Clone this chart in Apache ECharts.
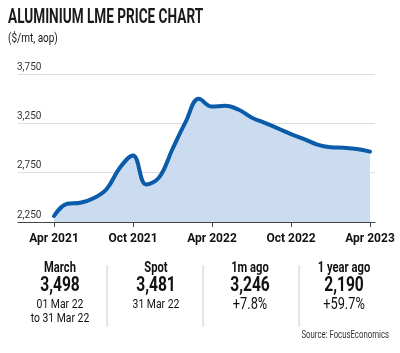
<!DOCTYPE html>
<html><head><meta charset="utf-8">
<script src="https://cdn.jsdelivr.net/npm/echarts@6/dist/echarts.min.js"></script>
<style>html,body{margin:0;padding:0;background:#fff}#c{width:400px;height:353px}</style>
</head><body><div id="c"></div>
<script>
const months = ['2021-04','2021-05','2021-06','2021-07','2021-08','2021-09','2021-10','2021-11','2021-12',
  '2022-01','2022-02','2022-03','2022-04','2022-05','2022-06','2022-07','2022-08','2022-09','2022-10','2022-11','2022-12',
  '2023-01','2023-02','2023-03','2023-04'];
const prices = [2311,2435,2445,2490,2585,2800,2925,2630,2705,2990,3265,3498,3420,3428,3390,3310,3255,3199,3140,3090,3035,3008,3002,2990,2963];
const xTickMonths = ['2021-04','2021-10','2022-04','2022-10','2023-04'];
const xTickLabels = ['Apr 2021','Oct 2021','Apr 2022','Oct 2022','Apr 2023'];
const yTickValues = [2250,2750,3250,3750];
const yTickLabels = ['2,250','2,750','3,250','3,750'];
const statHeads = ['March','Spot','1m ago','1 year ago'];
const statValues = ['3,498','3,481','3,246','2,190'];
const statNotes = [['01 Mar 22','to 31 Mar 22'],['31 Mar 22'],['+7.8%'],['+59.7%']];
const titleText = 'ALUMINIUM LME PRICE CHART';
const subtitleText = '($/mt, aop)';
const sourceText = 'Source: FocusEconomics';

const FONT = 'Roboto, "Liberation Sans", sans-serif';
const tickIdx = xTickMonths.map(m => months.indexOf(m));
const seriesData = prices.map((v, i) => [i, v]);

// condensed-look text: horizontal squeeze factor per text style
function condText(text, x, y, size, weight, squeeze, align, fill) {
  return {type:'text', x:x, y:y, scaleX:squeeze,
    style:{text:text, fontFamily:FONT, fontWeight:weight, fontSize:size, fill:fill || '#111',
      textAlign:align, textVerticalAlign:'middle'}};
}

const statX = [60, 156, 250, 344];
const graphics = [
  condText(titleText, 8, 17.5, 20, 'bold', 0.68, 'left', '#1a1a1a'),
  condText(subtitleText, 8, 38.5, 13.5, 'normal', 0.74, 'left', '#1a1a1a'),
  condText(sourceText, 389, 335, 10, 'normal', 0.78, 'right', '#333')
];
[107, 203, 299].forEach(x => graphics.push({type:'line', shape:{x1:x, y1:265, x2:x, y2:327}, style:{stroke:'#cccccc', lineWidth:1}}));
statHeads.forEach((h, i) => {
  graphics.push(condText(h, statX[i], 268, 14, 'bold', 0.8, 'center'));
  graphics.push(condText(statValues[i], statX[i], 285.5, 20, 'bold', 0.78, 'center'));
  statNotes[i].forEach((n, j) => {
    const big = n.indexOf('%') >= 0;
    graphics.push(condText(n, statX[i], 304.5 + j*14, big ? 16 : 13, 'normal', 0.8, 'center'));
  });
});

const chart = echarts.init(document.getElementById('c'), null, {renderer:'canvas'});
chart.setOption({
  animation:false,
  backgroundColor:'#fff',
  grid:{left:18, right:25, top:74, height:148, containLabel:false},
  xAxis:{
    type:'value', min:-2.734, max:24.38,
    splitLine:{show:false},
    axisLine:{show:true, lineStyle:{color:'#444', width:1}},
    axisTick:{show:true, customValues:tickIdx, length:5, lineStyle:{color:'#444', width:1}},
    axisLabel:{customValues:tickIdx, margin:11, fontFamily:FONT, fontWeight:'bold', fontSize:12, color:'#111',
      formatter: v => xTickLabels[tickIdx.indexOf(Math.round(v))] || ''}
  },
  yAxis:{
    type:'value', min:2250, max:3750,
    axisLine:{show:false},
    axisTick:{show:false, customValues:yTickValues},
    splitLine:{show:true, lineStyle:{color:'#dddddd', width:1}},
    axisLabel:{customValues:yTickValues, inside:true, margin:-1, align:'left', verticalAlign:'bottom', padding:[0,0,2,0],
      fontFamily:FONT, fontSize:10, color:'#333',
      formatter: v => yTickLabels[yTickValues.indexOf(v)] || ''}
  },
  series:[{
    type:'line', data:seriesData, smooth:0.4, symbol:'none',
    lineStyle:{color:'#0b5bab', width:4, cap:'round'},
    areaStyle:{color:'#cbdcf0', origin:'start', opacity:1}
  }],
  graphic:graphics
});
</script></body></html>
